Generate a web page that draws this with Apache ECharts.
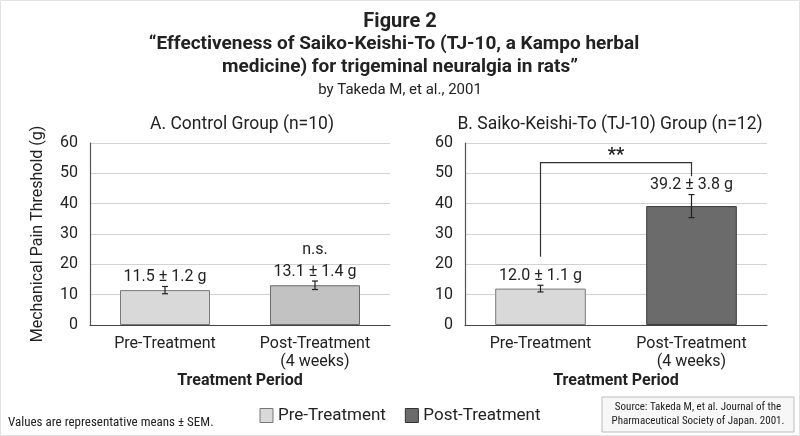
<!DOCTYPE html>
<html>
<head>
<meta charset="utf-8">
<script src="https://cdn.jsdelivr.net/npm/echarts@6/dist/echarts.min.js"></script>
<style>
  html, body { margin: 0; padding: 0; background: #fff; }
  #main { width: 800px; height: 436px; }
</style>
</head>
<body>
<div id="main"></div>
<script>
// data
var categories = ['Pre-Treatment', 'Post-Treatment\n(4 weeks)'];
var controlMeans = [11.5, 13.1];
var controlSem = [1.2, 1.4];
var controlSig = ['', 'n.s.'];
var tjMeans = [12.0, 39.2];
var tjSem = [1.1, 3.8];
var tjSig = ['', ''];
var bracketY = [22.5, 53.5, 49]; // left foot, top, right foot (g)
var bracketText = '**';

var FONT = 'Roboto, "Noto Sans", sans-serif';
var NARROW = '"Liberation Sans Narrow", "Roboto Condensed", Roboto, sans-serif';
var INK = '#222';

var preColor = '#d9d9d9';
var postColorA = '#c2c2c2';
var postColorB = '#6b6b6b';

var myChart = echarts.init(document.getElementById('main'));

// error bars + value labels, drawn through the axes
function errRenderer(means, sems, sigs) {
    return function (params, api) {
        var i = params.dataIndex;
        var x = api.value(0);
        var m = means[i], s = sems[i];
        var top = api.coord([x, m + s]);
        var bot = api.coord([x, m - s]);
        var barTop = api.coord([x, m]);
        var cap = 3;
        var lineStyle = { stroke: INK, lineWidth: 1.2 };
        var labelBottom = Math.min(barTop[1] - 5, top[1] - 1.5);
        var children = [
            { type: 'line', shape: { x1: top[0], y1: top[1], x2: bot[0], y2: bot[1] }, style: lineStyle },
            { type: 'line', shape: { x1: top[0] - cap, y1: top[1], x2: top[0] + cap, y2: top[1] }, style: lineStyle },
            { type: 'line', shape: { x1: bot[0] - cap, y1: bot[1], x2: bot[0] + cap, y2: bot[1] }, style: lineStyle },
            { type: 'text', style: {
                text: m.toFixed(1) + ' \u00b1 ' + s.toFixed(1) + ' g',
                x: top[0], y: labelBottom,
                align: 'center', verticalAlign: 'bottom',
                textAlign: 'center', textVerticalAlign: 'bottom',
                fontSize: 16, fontFamily: FONT, fill: INK
            } }
        ];
        if (sigs[i]) {
            children.push({ type: 'text', style: {
                text: sigs[i], x: top[0], y: labelBottom - 22,
                align: 'center', verticalAlign: 'bottom',
                textAlign: 'center', textVerticalAlign: 'bottom',
                fontSize: 16, fontFamily: FONT, fill: INK
            } });
        }
        return { type: 'group', children: children };
    };
}

function bracketRenderer(params, api) {
    var p0 = api.coord([0, bracketY[0]]);
    var p1 = api.coord([0, bracketY[1]]);
    var p2 = api.coord([1, bracketY[1]]);
    var p3 = api.coord([1, bracketY[2]]);
    return {
        type: 'group',
        children: [
            { type: 'polyline', shape: { points: [p0, p1, p2, p3] },
              style: { stroke: '#333', lineWidth: 1.2, fill: null } },
            { type: 'text', style: {
                text: bracketText, x: (p1[0] + p2[0]) / 2, y: p1[1] - 7,
                align: 'center', verticalAlign: 'middle',
                textAlign: 'center', textVerticalAlign: 'middle',
                fontSize: 18, fontWeight: 'bold', fontFamily: FONT, fill: INK
            } }
        ]
    };
}

function xAxisFor(idx) {
    return {
        type: 'category', gridIndex: idx, data: categories,
        axisTick: { show: false },
        axisLine: { lineStyle: { color: '#444', width: 1.2 } },
        axisLabel: { interval: 0, fontSize: 16, lineHeight: 18, margin: 10, color: INK, fontFamily: FONT },
        name: 'Treatment Period', nameLocation: 'middle', nameGap: 48,
        nameTextStyle: { fontSize: 16, fontWeight: 'bold', color: INK, fontFamily: FONT }
    };
}

function yAxisFor(idx, name) {
    return {
        type: 'value', gridIndex: idx, min: 0, max: 60, interval: 10,
        axisLine: { show: true, lineStyle: { color: '#555', width: 1.2 } },
        axisTick: { show: false },
        splitLine: { lineStyle: { color: '#d2d2d2' } },
        axisLabel: { fontSize: 16, color: INK, margin: 12, fontFamily: FONT },
        name: name, nameLocation: 'middle', nameGap: 44, nameRotate: 90,
        nameTextStyle: { fontSize: 16, color: INK, fontFamily: FONT }
    };
}

function pick(arr, k) {
    return arr.map(function (v, i) { return i === k ? v : '-'; });
}

function centerText(text, x, y, size, weight, family) {
    return { type: 'text', x: x, y: y, silent: true, style: {
        text: text, align: 'center', verticalAlign: 'middle',
        textAlign: 'center', textVerticalAlign: 'middle',
        fontSize: size, fontWeight: weight || 'normal', fontFamily: family || FONT, fill: INK } };
}

var option = {
    backgroundColor: '#fff',
    animation: false,
    textStyle: { fontFamily: FONT },
    grid: [
        { left: 90, width: 300, top: 143, height: 182 },
        { left: 465, width: 302, top: 143, height: 182 }
    ],
    xAxis: [xAxisFor(0), xAxisFor(1)],
    yAxis: [yAxisFor(0, 'Mechanical Pain Threshold (g)'), yAxisFor(1, '')],
    legend: {
        left: 'center', top: 402,
        itemWidth: 13, itemHeight: 14, itemGap: 19,
        textStyle: { fontSize: 17, color: INK, fontFamily: FONT },
        data: [
            { name: 'Pre-Treatment', icon: 'rect', itemStyle: { color: preColor, borderColor: '#777', borderWidth: 1 } },
            { name: 'Post-Treatment', icon: 'rect', itemStyle: { color: postColorB, borderColor: '#333', borderWidth: 1 } }
        ]
    },
    graphic: [
        { type: 'rect', shape: { x: 0.5, y: 0.5, width: 799, height: 435 },
          style: { fill: null, stroke: '#e2e2e2', lineWidth: 1 }, silent: true },
        centerText('Figure 2', 400, 22, 20, 'bold'),
        centerText('\u201cEffectiveness of Saiko-Keishi-To (TJ-10, a Kampo herbal', 394, 44, 19, 'bold'),
        centerText('medicine) for trigeminal neuralgia in rats\u201d', 400, 67, 19, 'bold'),
        centerText('by Takeda M, et al., 2001', 400, 90, 15),
        centerText('A. Control Group (n=10)', 242, 125, 17.5),
        centerText('B. Saiko-Keishi-To (TJ-10) Group (n=12)', 610, 125, 17.5),
        { type: 'text', x: 8, y: 423, style: {
            text: 'Values are representative means \u00b1 SEM.', align: 'left', verticalAlign: 'middle',
            textAlign: 'left', textVerticalAlign: 'middle',
            fontSize: 13, fontFamily: NARROW, fill: INK } },
        { type: 'rect', shape: { x: 602, y: 397, width: 192, height: 35 },
          style: { fill: '#f7f7f7', stroke: '#bdbdbd', lineWidth: 1 } },
        { type: 'text', x: 698, y: 414.5, style: {
            text: 'Source: Takeda M, et al. Journal of the\nPharmaceutical Society of Japan. 2001.',
            align: 'center', verticalAlign: 'middle',
            textAlign: 'center', textVerticalAlign: 'middle', lineHeight: 14,
            fontSize: 11, fontFamily: NARROW, fill: INK } }
    ],
    series: [
        { name: 'Pre-Treatment', type: 'bar', xAxisIndex: 0, yAxisIndex: 0,
          data: pick(controlMeans, 0), barWidth: '60%', barGap: '-100%',
          itemStyle: { color: preColor, borderColor: '#7a7a7a', borderWidth: 1 } },
        { name: 'Post-Treatment', type: 'bar', xAxisIndex: 0, yAxisIndex: 0,
          data: pick(controlMeans, 1), barWidth: '60%', barGap: '-100%',
          itemStyle: { color: postColorA, borderColor: '#6a6a6a', borderWidth: 1 } },
        { name: 'Pre-Treatment', type: 'bar', xAxisIndex: 1, yAxisIndex: 1,
          data: pick(tjMeans, 0), barWidth: '60%', barGap: '-100%',
          itemStyle: { color: preColor, borderColor: '#7a7a7a', borderWidth: 1 } },
        { name: 'Post-Treatment', type: 'bar', xAxisIndex: 1, yAxisIndex: 1,
          data: pick(tjMeans, 1), barWidth: '60%', barGap: '-100%',
          itemStyle: { color: postColorB, borderColor: '#3a3a3a', borderWidth: 1 } },
        { type: 'custom', xAxisIndex: 0, yAxisIndex: 0, z: 10, silent: true,
          renderItem: errRenderer(controlMeans, controlSem, controlSig),
          data: controlMeans.map(function (m, i) { return [i, m]; }) },
        { type: 'custom', xAxisIndex: 1, yAxisIndex: 1, z: 10, silent: true,
          renderItem: errRenderer(tjMeans, tjSem, tjSig),
          data: tjMeans.map(function (m, i) { return [i, m]; }) },
        { type: 'custom', xAxisIndex: 1, yAxisIndex: 1, z: 10, silent: true,
          renderItem: bracketRenderer,
          data: [[0, bracketY[1]]] }
    ]
};

myChart.setOption(option);
</script>
</body>
</html>
